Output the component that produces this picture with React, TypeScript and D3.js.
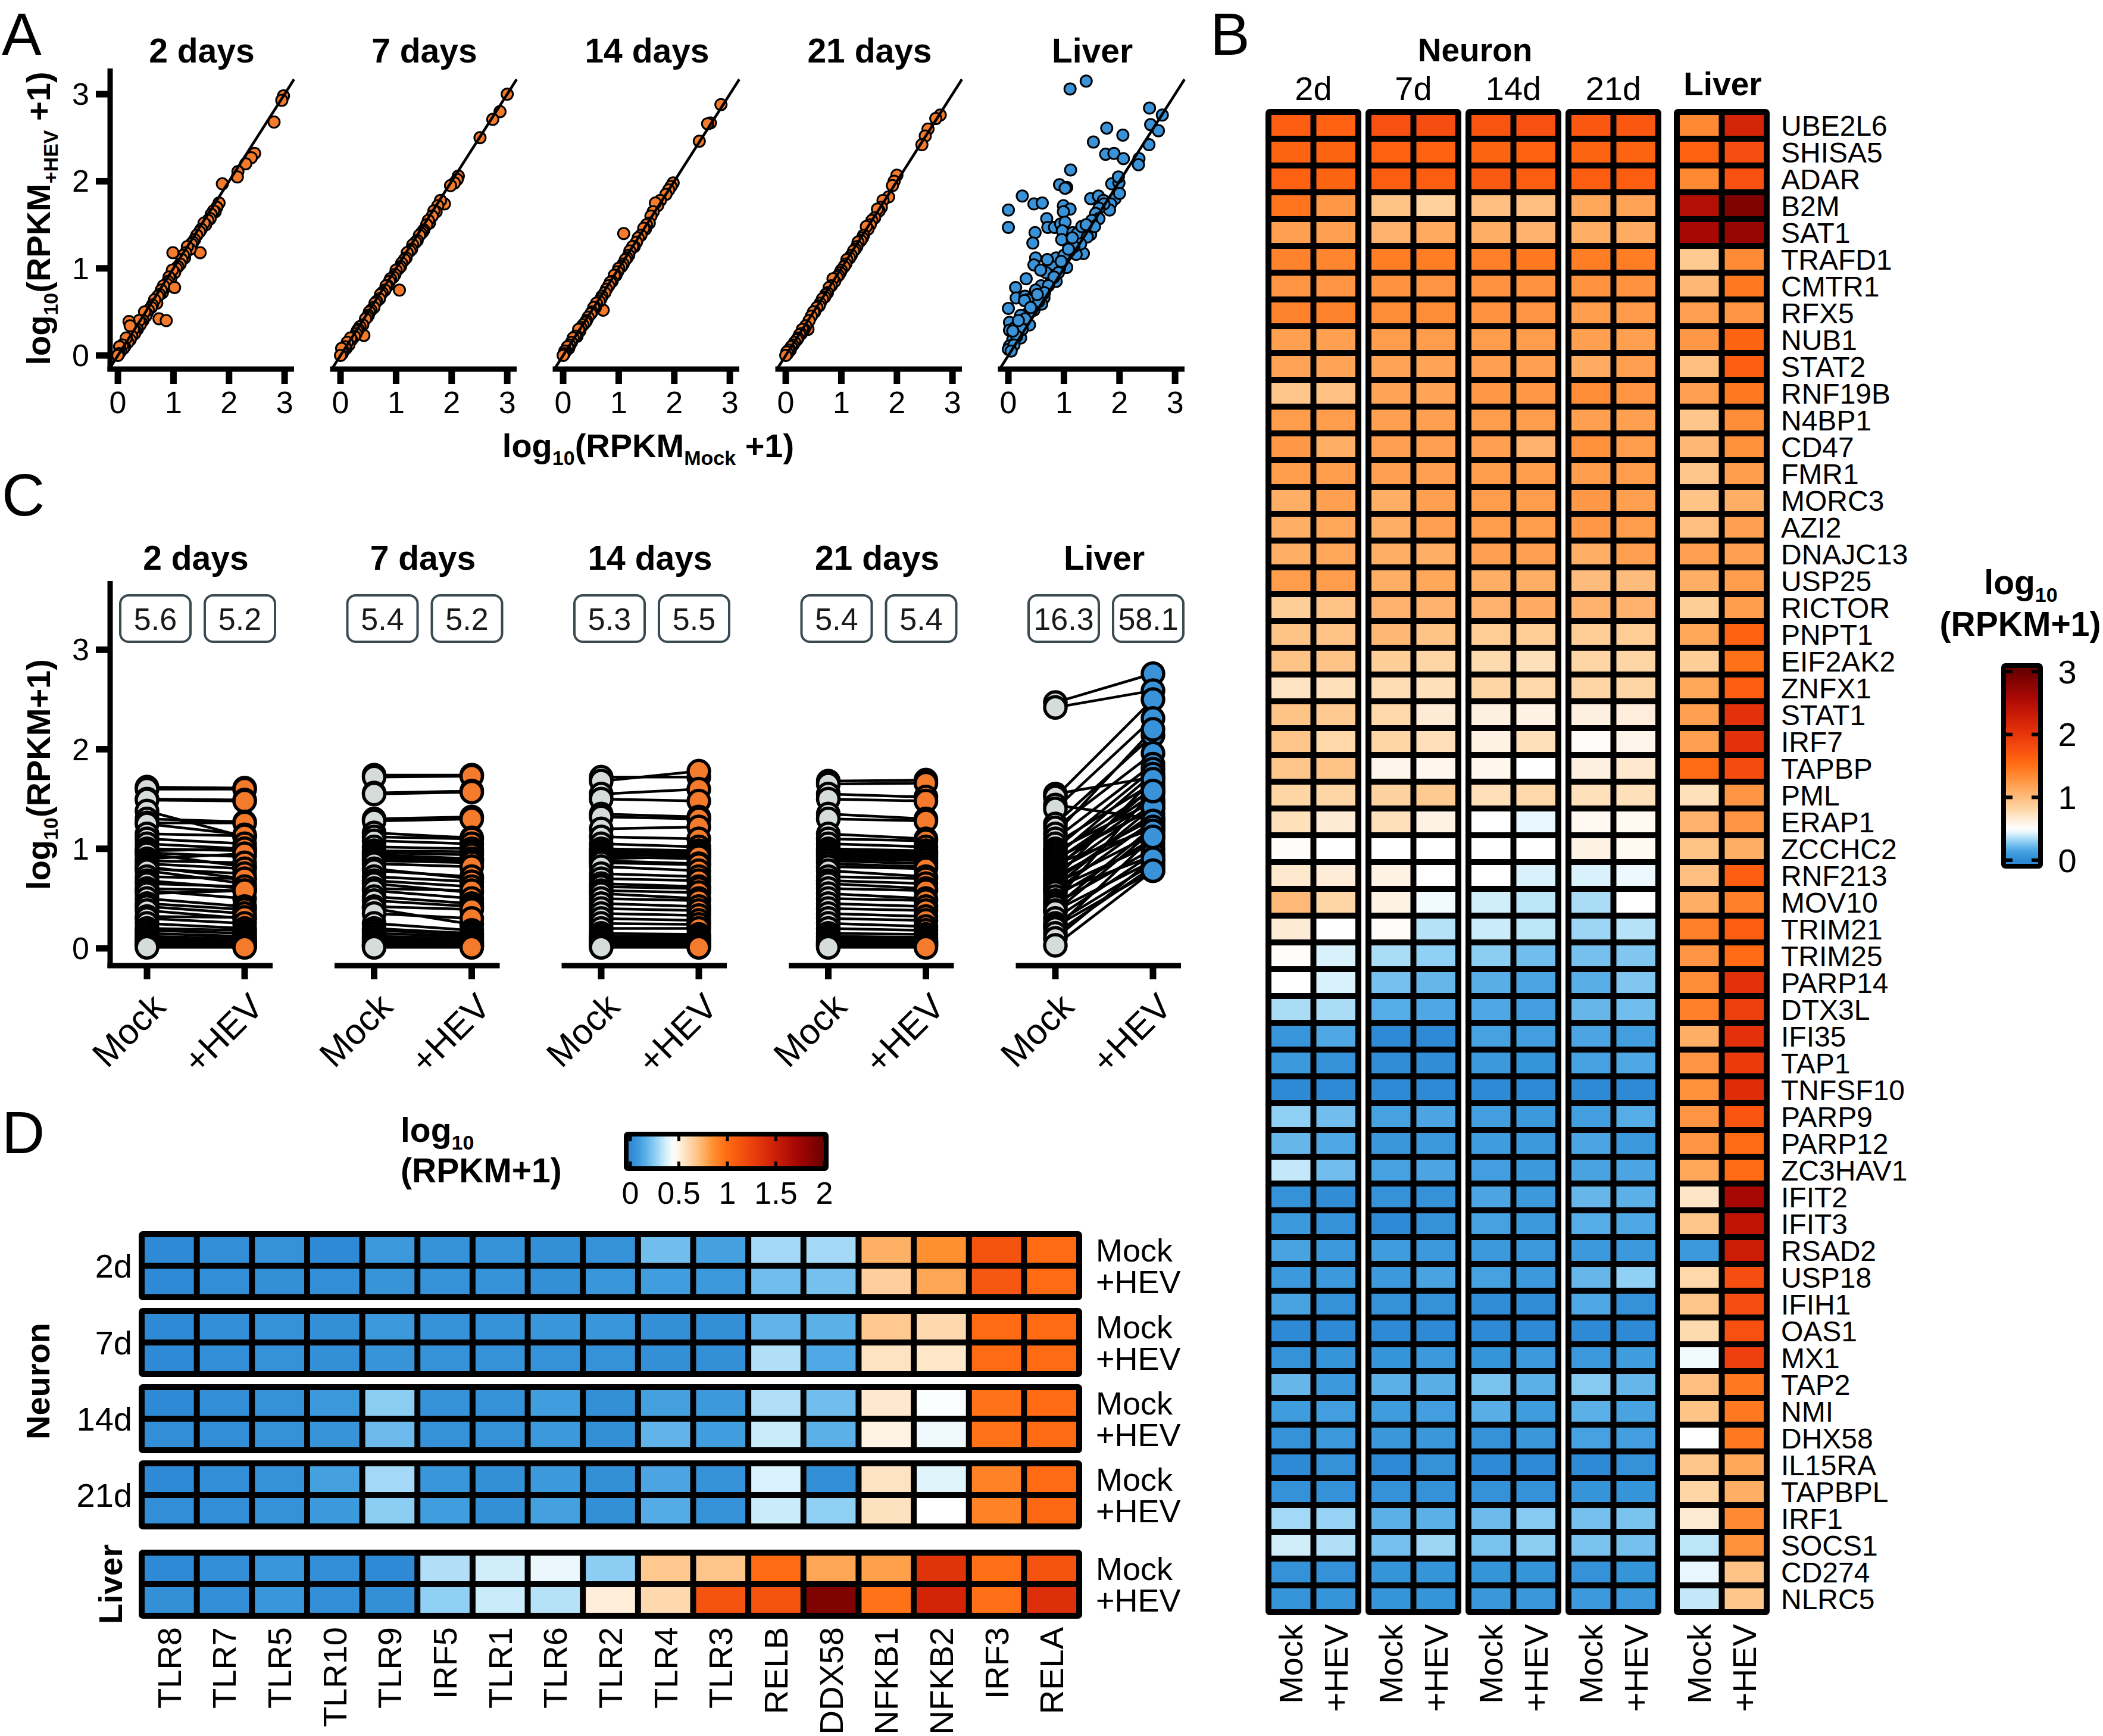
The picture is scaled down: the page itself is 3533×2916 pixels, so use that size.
import React from "react";
import * as d3 from "d3";

const FONT = "'Liberation Sans', Arial, Helvetica, sans-serif";
const ORANGE = "#f47a2c";
const BLUE = "#3a93d8";
const GREY = "#d5dcd9";

// ---------- panel A: [log10 mock, log10 +HEV] per gene ----------
const scatterTitles = ["2 days", "7 days", "14 days", "21 days", "Liver"];
const axisTicks = [0, 1, 2, 3];

const scatter2d = [
  [2.98, 2.98], [2.95, 2.93], [2.81, 2.68], [2.46, 2.32], [2.4, 2.27], [2.3, 2.2], [2.16, 2.11], [2.15, 2.05],
  [1.88, 1.97], [1.82, 1.75], [1.78, 1.7], [1.75, 1.65], [1.72, 1.66], [1.68, 1.62], [1.66, 1.57], [1.62, 1.55],
  [1.58, 1.5], [1.55, 1.52], [1.5, 1.45], [1.47, 1.42], [1.48, 1.18], [1.42, 1.38], [1.38, 1.33], [1.35, 1.3],
  [1.32, 1.28], [1.3, 1.22], [1.25, 1.25], [1.22, 1.18], [1.2, 1.12], [1.18, 1.15], [1.15, 1.1], [1.12, 1.05],
  [1.08, 1.02], [1.05, 1.0], [0.99, 1.18], [1.02, 0.95], [0.98, 0.98], [0.95, 0.88], [0.92, 0.9], [0.9, 0.85],
  [0.88, 0.82], [0.85, 0.78], [1.02, 0.78], [0.82, 0.8], [0.8, 0.72], [0.78, 0.75], [0.75, 0.7], [0.72, 0.68],
  [0.74, 0.42], [0.87, 0.4], [0.7, 0.6], [0.66, 0.64], [0.62, 0.58], [0.6, 0.55], [0.55, 0.52], [0.52, 0.48],
  [0.5, 0.45], [0.48, 0.5], [0.45, 0.4], [0.42, 0.38], [0.4, 0.35], [0.38, 0.4], [0.35, 0.3], [0.32, 0.28],
  [0.3, 0.25], [0.28, 0.3], [0.25, 0.22], [0.22, 0.18], [0.2, 0.39], [0.22, 0.34], [0.18, 0.15], [0.15, 0.2],
  [0.12, 0.1], [0.1, 0.08], [0.08, 0.12], [0.05, 0.05], [0.03, 0.1], [0.02, 0.02], [0.0, 0.0],
];
const scatter7d = [
  [3.0, 3.0], [2.87, 2.8], [2.74, 2.71], [2.51, 2.5], [2.12, 2.06], [2.1, 2.02], [2.05, 1.98], [1.98, 1.95],
  [1.87, 1.74], [1.8, 1.78], [1.75, 1.72], [1.72, 1.65], [1.68, 1.66], [1.65, 1.6], [1.6, 1.52], [1.58, 1.55],
  [1.55, 1.5], [1.5, 1.44], [1.48, 1.42], [1.45, 1.4], [1.42, 1.38], [1.38, 1.32], [1.35, 1.3], [1.3, 1.27],
  [1.28, 1.22], [1.25, 1.2], [1.2, 1.18], [1.18, 1.12], [1.15, 1.1], [1.1, 1.06], [1.06, 0.75], [1.08, 1.02],
  [1.05, 1.0], [1.0, 0.98], [0.98, 0.93], [0.95, 0.9], [0.9, 0.88], [0.88, 0.85], [0.85, 0.8], [0.82, 0.8],
  [0.8, 0.75], [0.75, 0.72], [0.72, 0.7], [0.7, 0.65], [0.65, 0.62], [0.62, 0.6], [0.6, 0.55], [0.55, 0.52],
  [0.52, 0.5], [0.5, 0.46], [0.48, 0.44], [0.45, 0.42], [0.42, 0.23], [0.4, 0.35], [0.35, 0.33], [0.32, 0.3],
  [0.3, 0.28], [0.28, 0.25], [0.25, 0.22], [0.2, 0.18], [0.18, 0.2], [0.15, 0.12], [0.12, 0.15], [0.1, 0.08],
  [0.08, 0.1], [0.05, 0.05], [0.03, 0.02], [0.02, 0.08], [0.0, 0.0],
];
const scatter14d = [
  [2.84, 2.88], [2.65, 2.67], [2.6, 2.66], [2.45, 2.46], [1.98, 1.98], [1.94, 1.94], [1.9, 1.9], [1.85, 1.85],
  [1.75, 1.78], [1.7, 1.72], [1.66, 1.75], [1.62, 1.65], [1.58, 1.6], [1.55, 1.52], [1.5, 1.5], [1.48, 1.45],
  [1.45, 1.46], [1.4, 1.38], [1.35, 1.35], [1.32, 1.3], [1.28, 1.25], [1.25, 1.25], [1.2, 1.2], [1.18, 1.15],
  [1.15, 1.12], [1.12, 1.1], [1.09, 1.4], [1.08, 1.05], [1.05, 1.02], [1.0, 1.0], [0.98, 0.96], [0.95, 0.92],
  [0.92, 0.92], [0.88, 0.85], [0.85, 0.84], [0.82, 0.8], [0.78, 0.76], [0.75, 0.72], [0.72, 0.52], [0.7, 0.68],
  [0.68, 0.65], [0.65, 0.62], [0.6, 0.6], [0.58, 0.55], [0.55, 0.55], [0.52, 0.5], [0.5, 0.48], [0.45, 0.44],
  [0.42, 0.4], [0.4, 0.38], [0.36, 0.35], [0.32, 0.32], [0.3, 0.28], [0.28, 0.3], [0.25, 0.22], [0.22, 0.22],
  [0.18, 0.2], [0.15, 0.15], [0.12, 0.12], [0.1, 0.08], [0.08, 0.1], [0.05, 0.05], [0.03, 0.05], [0.02, 0.02],
  [0.0, 0.0],
];
const scatter21d = [
  [2.78, 2.76], [2.7, 2.72], [2.56, 2.6], [2.51, 2.52], [2.45, 2.42], [2.0, 2.07], [1.95, 2.0], [1.92, 1.95],
  [1.85, 1.82], [1.75, 1.78], [1.72, 1.7], [1.68, 1.66], [1.65, 1.68], [1.6, 1.58], [1.55, 1.55], [1.52, 1.5],
  [1.48, 1.45], [1.45, 1.48], [1.4, 1.38], [1.38, 1.35], [1.35, 1.32], [1.3, 1.3], [1.28, 1.25], [1.25, 1.22],
  [1.22, 1.2], [1.18, 1.15], [1.15, 1.12], [1.1, 1.1], [1.08, 1.05], [1.05, 1.02], [1.0, 0.98], [0.98, 0.95],
  [0.95, 0.92], [0.92, 0.9], [0.88, 0.85], [0.85, 0.88], [0.82, 0.8], [0.78, 0.78], [0.75, 0.72], [0.72, 0.7],
  [0.7, 0.67], [0.66, 0.65], [0.62, 0.6], [0.6, 0.57], [0.56, 0.55], [0.52, 0.5], [0.5, 0.5], [0.46, 0.45],
  [0.42, 0.4], [0.4, 0.3], [0.36, 0.34], [0.33, 0.3], [0.3, 0.3], [0.28, 0.25], [0.25, 0.24], [0.22, 0.2],
  [0.2, 0.18], [0.16, 0.15], [0.13, 0.12], [0.1, 0.1], [0.08, 0.06], [0.05, 0.06], [0.03, 0.02], [0.02, 0.04],
  [0.0, 0.0],
];
const scatterLiver = [
  [1.11, 3.06], [1.4, 3.15], [2.54, 2.84], [2.77, 2.76], [2.56, 2.65], [2.7, 2.58], [2.53, 2.42], [2.35, 2.26],
  [2.34, 2.19], [1.77, 2.61], [2.06, 2.53], [1.53, 2.45], [1.75, 2.31], [1.9, 2.32], [2.07, 2.26], [1.12, 2.13],
  [0.92, 1.96], [1.05, 1.93], [1.02, 1.92], [0.25, 1.83], [0.46, 1.74], [0.61, 1.75], [0.0, 1.67], [0.0, 1.47],
  [1.48, 1.8], [1.62, 1.83], [1.71, 1.78], [0.99, 1.72], [1.11, 1.68], [0.99, 1.65], [0.69, 1.57], [0.71, 1.47],
  [0.83, 1.47], [0.94, 1.51], [1.02, 1.53], [0.97, 1.43], [0.48, 1.41], [0.44, 1.29], [0.49, 1.12], [0.46, 1.04],
  [1.16, 1.41], [1.24, 1.4], [1.32, 1.48], [1.05, 1.31], [0.96, 1.33], [0.32, 0.88], [0.13, 0.78], [0.14, 0.66],
  [0.3, 0.68], [0.35, 0.64], [0.0, 0.54], [0.02, 0.38], [0.02, 0.29], [1.86, 1.97], [1.99, 1.98], [1.98, 2.05],
  [1.92, 1.8], [2.0, 1.86], [1.84, 1.74], [1.82, 1.67], [1.72, 1.74], [1.63, 1.69], [1.57, 1.63], [1.63, 1.57],
  [1.48, 1.39], [1.42, 1.36], [1.35, 1.17], [1.22, 1.16], [1.05, 1.01], [0.92, 1.0], [0.86, 1.12], [0.78, 1.02],
  [0.75, 0.92], [0.68, 0.95], [0.86, 0.85], [0.59, 0.8], [0.49, 0.75], [0.64, 0.66], [0.6, 0.59], [0.46, 0.52],
  [0.36, 0.49], [0.38, 0.35], [0.29, 0.63], [0.22, 0.46], [0.12, 0.32], [0.22, 0.2], [0.08, 0.18], [0.02, 0.11],
  [0.0, 0.07], [1.3, 1.28], [1.18, 1.25], [1.1, 1.2], [1.0, 1.15], [0.95, 1.08], [0.9, 0.95], [0.82, 0.9],
  [0.72, 0.8], [0.65, 0.72], [0.55, 0.62], [0.52, 0.7], [0.4, 0.55], [0.3, 0.42], [0.25, 0.3], [0.15, 0.22],
  [0.1, 0.12], [0.05, 0.05], [0.18, 0.4], [0.08, 0.28], [1.5, 1.55], [1.55, 1.48], [1.4, 1.5], [1.15, 1.35],
  [1.08, 1.22], [0.7, 1.1], [0.58, 0.98],
];

// ---------- panel C: paired [mock, +HEV] per gene ----------
const pairCats = ["Mock", "+HEV"];
const boxLabels = [["5.6", "5.2"], ["5.4", "5.2"], ["5.3", "5.5"], ["5.4", "5.4"], ["16.3", "58.1"]];
const pairs2d = [
  [1.62, 1.61], [1.6, 1.6], [1.5, 1.49], [1.49, 1.48], [1.38, 1.12], [1.3, 1.27], [1.26, 1.26], [1.25, 1.14],
  [1.15, 1.13], [1.1, 1.05], [1.05, 1.0], [1.0, 0.98], [0.98, 1.0], [0.96, 0.92], [0.95, 0.82], [0.9, 0.95],
  [0.88, 0.86], [0.85, 0.8], [0.82, 0.7], [0.8, 0.75], [0.78, 0.65], [0.72, 0.7], [0.68, 0.6], [0.65, 0.62],
  [0.6, 0.58], [0.58, 0.5], [0.55, 0.58], [0.5, 0.42], [0.45, 0.39], [0.42, 0.35], [0.38, 0.3], [0.32, 0.31],
  [0.3, 0.25], [0.25, 0.2], [0.2, 0.18], [0.18, 0.15], [0.15, 0.12], [0.12, 0.1], [0.1, 0.08], [0.08, 0.06],
  [0.06, 0.05], [0.05, 0.04], [0.04, 0.03], [0.03, 0.02], [0.02, 0.02], [0.01, 0.01],
];
const pairs7d = [
  [1.74, 1.74], [1.72, 1.73], [1.56, 1.58], [1.55, 1.57], [1.3, 1.32], [1.28, 1.3], [1.16, 1.11], [1.12, 1.1],
  [1.08, 1.05], [1.02, 1.0], [0.98, 0.97], [0.96, 0.94], [0.94, 0.9], [0.92, 0.9], [0.9, 0.88], [0.88, 0.86],
  [0.85, 0.82], [0.8, 0.7], [0.78, 0.72], [0.72, 0.67], [0.68, 0.62], [0.65, 0.56], [0.6, 0.58], [0.58, 0.5],
  [0.52, 0.45], [0.48, 0.42], [0.42, 0.39], [0.4, 0.24], [0.35, 0.3], [0.25, 0.18], [0.2, 0.15], [0.18, 0.14],
  [0.15, 0.12], [0.12, 0.1], [0.1, 0.08], [0.08, 0.06], [0.06, 0.05], [0.04, 0.04], [0.03, 0.03], [0.02, 0.02],
  [0.01, 0.01],
];
const pairs14d = [
  [1.72, 1.72], [1.68, 1.78], [1.55, 1.6], [1.5, 1.48], [1.35, 1.32], [1.32, 1.3], [1.2, 1.22], [1.12, 1.1],
  [1.05, 1.02], [1.0, 0.98], [0.98, 0.97], [0.96, 0.95], [0.94, 0.93], [0.92, 0.9], [0.9, 0.92], [0.88, 0.85],
  [0.86, 0.84], [0.82, 0.78], [0.75, 0.72], [0.7, 0.68], [0.65, 0.62], [0.62, 0.6], [0.58, 0.56], [0.55, 0.5],
  [0.5, 0.48], [0.45, 0.42], [0.4, 0.38], [0.35, 0.33], [0.3, 0.28], [0.25, 0.24], [0.2, 0.2], [0.15, 0.14],
  [0.12, 0.12], [0.1, 0.1], [0.08, 0.08], [0.06, 0.06], [0.05, 0.05], [0.04, 0.04], [0.03, 0.03], [0.02, 0.02],
  [0.01, 0.01],
];
const pairs21d = [
  [1.68, 1.69], [1.65, 1.66], [1.55, 1.52], [1.5, 1.48], [1.35, 1.3], [1.3, 1.28], [1.15, 1.1], [1.1, 1.08],
  [1.05, 1.02], [1.0, 0.98], [0.98, 0.96], [0.96, 0.94], [0.94, 0.92], [0.92, 0.9], [0.9, 0.88], [0.88, 0.85],
  [0.85, 0.82], [0.82, 0.8], [0.78, 0.72], [0.72, 0.7], [0.68, 0.65], [0.65, 0.6], [0.6, 0.58], [0.55, 0.5],
  [0.5, 0.48], [0.45, 0.42], [0.4, 0.38], [0.35, 0.32], [0.3, 0.28], [0.25, 0.22], [0.2, 0.18], [0.15, 0.14],
  [0.12, 0.11], [0.1, 0.09], [0.08, 0.07], [0.06, 0.06], [0.05, 0.05], [0.04, 0.04], [0.03, 0.03], [0.02, 0.02],
  [0.01, 0.01],
];
const pairsLiver = [
  [2.47, 2.76], [2.42, 2.59], [1.55, 1.72], [1.52, 2.5], [1.44, 1.3], [1.4, 2.31], [1.25, 2.14], [1.21, 1.96],
  [1.15, 2.2], [1.1, 1.85], [1.05, 1.66], [1.0, 1.8], [0.98, 1.47], [0.95, 1.6], [0.92, 1.75], [0.9, 1.4],
  [0.88, 1.55], [0.85, 1.2], [0.82, 1.5], [0.8, 1.62], [0.78, 1.3], [0.75, 1.45], [0.72, 1.25], [0.7, 1.7],
  [0.68, 1.35], [0.65, 1.15], [0.62, 1.42], [0.6, 1.05], [0.58, 1.28], [0.56, 0.93], [0.52, 1.1], [0.48, 1.58],
  [0.45, 1.0], [0.42, 1.22], [0.38, 0.88], [0.37, 1.18], [0.3, 0.95], [0.25, 0.85], [0.22, 0.78], [0.2, 1.12],
  [0.15, 0.82], [0.1, 0.9], [0.03, 0.78],
];

// ---------- panel B heatmap ----------
const bGroups = ["2d", "7d", "14d", "21d", "Liver"];
const bGenes = [
  "UBE2L6", "SHISA5", "ADAR", "B2M", "SAT1", "TRAFD1", "CMTR1", "RFX5", "NUB1", "STAT2", "RNF19B", "N4BP1",
  "CD47", "FMR1", "MORC3", "AZI2", "DNAJC13", "USP25", "RICTOR", "PNPT1", "EIF2AK2", "ZNFX1", "STAT1", "IRF7",
  "TAPBP", "PML", "ERAP1", "ZCCHC2", "RNF213", "MOV10", "TRIM21", "TRIM25", "PARP14", "DTX3L", "IFI35", "TAP1",
  "TNFSF10", "PARP9", "PARP12", "ZC3HAV1", "IFIT2", "IFIT3", "RSAD2", "USP18", "IFIH1", "OAS1", "MX1", "TAP2",
  "NMI", "DHX58", "IL15RA", "TAPBPL", "IRF1", "SOCS1", "CD274", "NLRC5",
];
// columns: 2d mock/+HEV, 7d, 14d, 21d, liver
const bValues = [
  [1.65, 1.62, 1.75, 1.78, 1.72, 1.75, 1.7, 1.7, 1.35, 2.2],
  [1.6, 1.6, 1.62, 1.62, 1.6, 1.62, 1.6, 1.6, 1.62, 1.78],
  [1.62, 1.6, 1.65, 1.65, 1.68, 1.65, 1.65, 1.65, 1.35, 1.75],
  [1.48, 1.25, 0.95, 0.85, 0.98, 0.98, 1.15, 1.17, 2.5, 2.85],
  [1.2, 1.2, 1.07, 1.13, 1.1, 1.07, 1.1, 1.12, 2.6, 2.7],
  [1.38, 1.37, 1.42, 1.42, 1.4, 1.45, 1.42, 1.42, 0.9, 1.33],
  [1.27, 1.27, 1.28, 1.27, 1.28, 1.28, 1.28, 1.28, 1.03, 1.45],
  [1.38, 1.38, 1.32, 1.32, 1.28, 1.27, 1.22, 1.23, 1.2, 1.27],
  [1.2, 1.2, 1.22, 1.22, 1.22, 1.22, 1.2, 1.2, 1.25, 1.6],
  [1.17, 1.17, 1.17, 1.17, 1.2, 1.2, 1.12, 1.2, 0.98, 1.65],
  [0.93, 0.97, 1.17, 1.17, 1.25, 1.25, 1.32, 1.27, 1.2, 1.45],
  [1.22, 1.22, 1.2, 1.2, 1.22, 1.22, 1.2, 1.2, 0.93, 1.32],
  [1.25, 1.1, 1.2, 1.2, 1.2, 1.07, 1.3, 1.22, 1.03, 1.3],
  [1.22, 1.22, 1.2, 1.2, 1.22, 1.22, 1.22, 1.22, 0.93, 1.22],
  [1.1, 1.2, 1.1, 1.2, 1.22, 1.22, 1.25, 1.2, 0.95, 1.1],
  [1.1, 1.15, 1.1, 1.2, 1.22, 1.22, 1.25, 1.22, 0.98, 1.2],
  [1.1, 1.15, 1.1, 1.1, 1.2, 1.2, 1.1, 1.2, 1.2, 1.2],
  [1.22, 1.22, 1.1, 1.15, 1.1, 1.1, 1.0, 1.0, 1.1, 1.22],
  [0.87, 0.95, 1.07, 1.07, 1.07, 1.12, 1.07, 1.07, 0.87, 1.22],
  [0.95, 0.95, 1.03, 0.95, 0.88, 0.88, 0.88, 0.88, 1.15, 1.62],
  [0.95, 0.95, 0.87, 0.82, 0.78, 0.74, 0.82, 0.82, 0.87, 1.5],
  [0.72, 0.74, 0.76, 0.74, 0.82, 0.8, 0.82, 0.82, 1.15, 1.65],
  [0.95, 0.9, 0.8, 0.66, 0.62, 0.6, 0.62, 0.64, 1.2, 2.05],
  [0.93, 0.8, 0.82, 0.75, 0.6, 0.74, 0.52, 0.58, 1.2, 2.05],
  [0.93, 0.95, 0.58, 0.57, 0.57, 0.5, 0.62, 0.68, 1.55, 1.8],
  [0.82, 0.82, 0.84, 0.9, 0.75, 0.8, 0.74, 0.74, 0.74, 1.27],
  [0.74, 0.66, 0.74, 0.6, 0.5, 0.45, 0.55, 0.55, 1.07, 1.27],
  [0.52, 0.5, 0.5, 0.5, 0.5, 0.5, 0.6, 0.55, 0.95, 1.1],
  [0.68, 0.65, 0.6, 0.5, 0.5, 0.42, 0.42, 0.46, 0.98, 1.65],
  [1.02, 0.82, 0.6, 0.47, 0.4, 0.37, 0.34, 0.5, 1.1, 1.4],
  [0.66, 0.5, 0.52, 0.36, 0.39, 0.37, 0.32, 0.36, 1.4, 1.65],
  [0.52, 0.42, 0.34, 0.3, 0.29, 0.24, 0.25, 0.27, 1.27, 1.55],
  [0.5, 0.42, 0.25, 0.22, 0.19, 0.15, 0.19, 0.27, 1.32, 2.05],
  [0.34, 0.34, 0.18, 0.16, 0.16, 0.12, 0.22, 0.24, 1.4, 1.9],
  [0.07, 0.16, 0.0, 0.0, 0.13, 0.12, 0.15, 0.12, 1.1, 2.05],
  [0.1, 0.05, 0.02, 0.02, 0.1, 0.06, 0.13, 0.16, 1.27, 1.95],
  [0.0, 0.0, 0.0, 0.0, 0.0, 0.0, 0.0, 0.0, 1.3, 2.1],
  [0.3, 0.24, 0.13, 0.15, 0.12, 0.1, 0.12, 0.18, 1.27, 1.72],
  [0.22, 0.16, 0.08, 0.1, 0.11, 0.1, 0.15, 0.1, 1.27, 1.55],
  [0.38, 0.24, 0.13, 0.15, 0.12, 0.1, 0.14, 0.15, 1.15, 1.55],
  [0.05, 0.02, 0.05, 0.05, 0.15, 0.1, 0.22, 0.2, 0.7, 2.6],
  [0.1, 0.05, 0.0, 0.05, 0.13, 0.1, 0.18, 0.16, 0.93, 2.4],
  [0.14, 0.1, 0.11, 0.1, 0.1, 0.09, 0.1, 0.1, 0.1, 2.3],
  [0.1, 0.1, 0.1, 0.14, 0.13, 0.1, 0.22, 0.3, 0.8, 1.78],
  [0.14, 0.05, 0.05, 0.05, 0.02, 0.02, 0.16, 0.05, 0.93, 1.78],
  [0.0, 0.0, 0.0, 0.0, 0.0, 0.0, 0.0, 0.0, 0.78, 1.75],
  [0.05, 0.06, 0.06, 0.1, 0.06, 0.1, 0.09, 0.11, 0.47, 1.9],
  [0.22, 0.1, 0.2, 0.19, 0.26, 0.2, 0.28, 0.22, 0.98, 1.45],
  [0.11, 0.12, 0.11, 0.12, 0.19, 0.11, 0.2, 0.14, 0.95, 1.45],
  [0.05, 0.1, 0.08, 0.08, 0.05, 0.08, 0.13, 0.12, 0.5, 1.45],
  [0.0, 0.05, 0.0, 0.05, 0.0, 0.0, 0.0, 0.05, 0.93, 1.15],
  [0.05, 0.05, 0.05, 0.05, 0.05, 0.05, 0.06, 0.06, 0.82, 1.1],
  [0.33, 0.31, 0.2, 0.2, 0.23, 0.28, 0.25, 0.26, 0.67, 1.35],
  [0.4, 0.35, 0.25, 0.32, 0.26, 0.29, 0.26, 0.25, 0.37, 1.3],
  [0.05, 0.05, 0.06, 0.06, 0.06, 0.06, 0.05, 0.06, 0.45, 0.95],
  [0.06, 0.06, 0.06, 0.06, 0.08, 0.08, 0.1, 0.1, 0.38, 0.93],
];
const bTicks = [0, 1, 2, 3];

// ---------- panel D heatmap ----------
const dGroups = ["2d", "7d", "14d", "21d", "Liver"];
const dGenes = ["TLR8", "TLR7", "TLR5", "TLR10", "TLR9", "IRF5", "TLR1", "TLR6", "TLR2", "TLR4", "TLR3", "RELB", "DDX58", "NFKB1", "NFKB2", "IRF3", "RELA"];
// rows per gene: 2d mock/+HEV, 7d, 14d, 21d, liver
const dValues = [
  [0.0, 0.0, 0.0, 0.0, 0.0, 0.02, 0.0, 0.02, 0.0, 0.03],
  [0.02, 0.02, 0.02, 0.02, 0.02, 0.02, 0.02, 0.02, 0.02, 0.02],
  [0.04, 0.03, 0.04, 0.04, 0.04, 0.04, 0.04, 0.04, 0.06, 0.06],
  [0.0, 0.02, 0.03, 0.03, 0.07, 0.05, 0.1, 0.08, 0.02, 0.02],
  [0.07, 0.05, 0.07, 0.05, 0.25, 0.19, 0.29, 0.25, 0.0, 0.03],
  [0.04, 0.04, 0.04, 0.04, 0.04, 0.04, 0.06, 0.09, 0.31, 0.26],
  [0.04, 0.04, 0.04, 0.04, 0.04, 0.04, 0.03, 0.03, 0.36, 0.35],
  [0.03, 0.03, 0.06, 0.04, 0.09, 0.08, 0.08, 0.1, 0.41, 0.32],
  [0.04, 0.06, 0.06, 0.04, 0.03, 0.03, 0.03, 0.03, 0.25, 0.52],
  [0.2, 0.09, 0.03, 0.03, 0.1, 0.17, 0.12, 0.14, 0.67, 0.6],
  [0.1, 0.08, 0.03, 0.03, 0.08, 0.09, 0.04, 0.04, 0.68, 1.15],
  [0.29, 0.2, 0.17, 0.31, 0.31, 0.35, 0.38, 0.35, 1.0, 1.15],
  [0.29, 0.21, 0.16, 0.13, 0.2, 0.16, 0.02, 0.26, 0.78, 1.9],
  [0.75, 0.64, 0.67, 0.56, 0.54, 0.5, 0.56, 0.57, 0.8, 0.97],
  [0.85, 0.78, 0.6, 0.55, 0.44, 0.42, 0.39, 0.45, 1.35, 1.45],
  [1.15, 1.12, 1.0, 1.0, 0.97, 0.97, 0.9, 0.9, 0.98, 0.98],
  [1.0, 1.0, 1.0, 1.0, 1.0, 1.0, 1.0, 1.02, 1.15, 1.38],
];
const dTicks = [0, 0.5, 1, 1.5, 2];

// colour ramps (blue - white - orange - dark red)
const bColor = d3
  .scaleLinear<string>()
  .domain([0, 0.1, 0.2, 0.3, 0.4, 0.5, 0.65, 0.8, 1.0, 1.2, 1.4, 1.55, 1.75, 2.0, 2.3, 2.6, 3.0])
  .range(["#2e8ad4", "#3c9adc", "#5cb0e8", "#90d0f4", "#d0eefa", "#ffffff", "#feecd8", "#fed8a8", "#febc7c", "#ffa050", "#ff8028", "#ff6a12", "#f85010", "#e8360c", "#cc1c06", "#a80804", "#6a0000"])
  .clamp(true);
const dColor = d3
  .scaleLinear<string>()
  .domain([0, 0.08, 0.16, 0.26, 0.36, 0.45, 0.55, 0.7, 0.85, 1.0, 1.2, 1.45, 1.7, 2.0])
  .range(["#2e8ad4", "#3c9adc", "#5cb0e8", "#90d0f4", "#d0eefa", "#ffffff", "#fee6c8", "#fec080", "#ff9030", "#ff6a12", "#f04a0e", "#d42408", "#a80804", "#6a0000"])
  .clamp(true);

const Log10 = ({ sub = 34, dy = 13 }) => (
  <>
    log<tspan fontSize={sub} dy={dy}>10</tspan>
  </>
);

function PanelA() {
  const sets = [scatter2d, scatter7d, scatter14d, scatter21d, scatterLiver];
  const y = d3.scaleLinear().domain([-0.157, 3.295]).range([620, 115]);
  return (
    <g>
      {sets.map((pts, i) => {
        const o = 185 + i * 374;
        const x = d3.scaleLinear().domain([-0.14, 3.17]).range([o, o + 309]);
        const fill = i === 4 ? BLUE : ORANGE;
        return (
          <g key={i}>
            <text x={o + 154} y={105} textAnchor="middle" fontSize={57} fontWeight="bold">{scatterTitles[i]}</text>
            {pts.map((p, k) => (
              <circle key={k} cx={x(p[0])} cy={y(p[1])} r={9.5} fill={fill} stroke="#000" strokeWidth={3} />
            ))}
            <line x1={x(-0.14)} y1={y(-0.14)} x2={x(3.17)} y2={y(3.17)} stroke="#000" strokeWidth={4.5} />
            <line x1={o - 4.5} x2={o + 309} y1={620} y2={620} stroke="#000" strokeWidth={9} />
            {axisTicks.map((t) => (
              <g key={t}>
                <line x1={x(t)} x2={x(t)} y1={620} y2={645} stroke="#000" strokeWidth={11} />
                <text x={x(t)} y={694} textAnchor="middle" fontSize={52}>{t}</text>
              </g>
            ))}
          </g>
        );
      })}
      <line x1={185} x2={185} y1={115} y2={624} stroke="#000" strokeWidth={9} />
      {axisTicks.map((t) => (
        <g key={t}>
          <line x1={185} x2={161} y1={y(t)} y2={y(t)} stroke="#000" strokeWidth={11} />
          <text x={150} y={y(t)} textAnchor="end" dominantBaseline="central" fontSize={52}>{t}</text>
        </g>
      ))}
      <text transform="translate(84,367) rotate(-90)" textAnchor="middle" fontSize={56} fontWeight="bold">
        <Log10 />
        <tspan dy={-13}>(RPKM</tspan>
        <tspan fontSize={34} dy={13}>+HEV</tspan>
        <tspan dy={-13}>{" +1)"}</tspan>
      </text>
      <text x={1089} y={768} textAnchor="middle" fontSize={56} fontWeight="bold">
        <Log10 />
        <tspan dy={-13}>(RPKM</tspan>
        <tspan fontSize={34} dy={13}>Mock</tspan>
        <tspan dy={-13}>{" +1)"}</tspan>
      </text>
    </g>
  );
}

function PanelC() {
  const sets = [pairs2d, pairs7d, pairs14d, pairs21d, pairsLiver];
  const y = d3.scaleLinear().domain([-0.174, 3.69]).range([1622, 976]);
  return (
    <g>
      {sets.map((pairs, i) => {
        const o = 185 + i * 381.5;
        const x = d3.scalePoint().domain(pairCats).range([o + 62, o + 226]);
        const mx = x("Mock") as number;
        const hx = x("+HEV") as number;
        const fill = i === 4 ? BLUE : ORANGE;
        return (
          <g key={i}>
            <text x={o + 144} y={957} textAnchor="middle" fontSize={57} fontWeight="bold">{scatterTitles[i]}</text>
            {boxLabels[i].map((lab, j) => {
              const cx = j === 0 ? mx + 14 : hx - 8;
              return (
                <g key={j}>
                  <rect x={cx - 59} y={1000} width={118} height={78} rx={14} fill="#fff" stroke="#3b4a50" strokeWidth={4} />
                  <text x={cx} y={1040} textAnchor="middle" dominantBaseline="central" fontSize={52} fill="#1a1a1a">{lab}</text>
                </g>
              );
            })}
            {pairs.map((p, k) => (
              <line key={k} x1={mx} y1={y(p[0])} x2={hx} y2={y(p[1])} stroke="#000" strokeWidth={4.5} />
            ))}
            {pairs.map((p, k) => (
              <circle key={k} cx={mx} cy={y(p[0])} r={18} fill={GREY} stroke="#000" strokeWidth={5.5} />
            ))}
            {pairs.map((p, k) => (
              <circle key={k} cx={hx} cy={y(p[1])} r={18} fill={fill} stroke="#000" strokeWidth={5.5} />
            ))}
            <line x1={o - 4.5} x2={o + 273} y1={1622} y2={1622} stroke="#000" strokeWidth={9} />
            {pairCats.map((c) => (
              <g key={c}>
                <line x1={x(c)} x2={x(c)} y1={1622} y2={1645} stroke="#000" strokeWidth={11} />
                <text
                  transform={`translate(${(x(c) as number) + 4},1664) rotate(-45)`}
                  textAnchor="end"
                  dy="0.72em"
                  fontSize={60}
                >
                  {c}
                </text>
              </g>
            ))}
          </g>
        );
      })}
      <line x1={185} x2={185} y1={976} y2={1626} stroke="#000" strokeWidth={9} />
      {axisTicks.map((t) => (
        <g key={t}>
          <line x1={185} x2={161} y1={y(t)} y2={y(t)} stroke="#000" strokeWidth={11} />
          <text x={150} y={y(t)} textAnchor="end" dominantBaseline="central" fontSize={52}>{t}</text>
        </g>
      ))}
      <text transform="translate(84,1301) rotate(-90)" textAnchor="middle" fontSize={56} fontWeight="bold">
        <Log10 />
        <tspan dy={-13}>(RPKM+1)</tspan>
      </text>
    </g>
  );
}

function PanelB() {
  const blockX = [2126, 2294, 2462, 2630, 2812];
  const top = 183;
  const bottom = 2713;
  const rows = d3.scaleBand().domain(bGenes).range([top + 5, bottom - 5]);
  const rh = rows.bandwidth();
  const cbY = d3.scaleLinear().domain([0, 3]).range([1445, 1128]);
  return (
    <g>
      <text x={2478} y={103} textAnchor="middle" fontSize={55} fontWeight="bold">Neuron</text>
      {blockX.map((bx, g) => {
        const cols = d3.scaleBand().domain(pairCats).range([bx + 5, bx + 156]);
        return (
          <g key={g}>
            {g < 4 ? (
              <text x={bx + 80.5} y={168} textAnchor="middle" fontSize={56}>{bGroups[g]}</text>
            ) : (
              <text x={bx + 82} y={160} textAnchor="middle" fontSize={55} fontWeight="bold">{bGroups[g]}</text>
            )}
            <rect x={bx} y={top} width={161} height={bottom - top} rx={7} fill="#000" />
            {bGenes.map((gene, r) =>
              pairCats.map((c, j) => (
                <rect
                  key={gene + c}
                  x={(cols(c) as number) + 5}
                  y={(rows(gene) as number) + 5}
                  width={cols.bandwidth() - 10}
                  height={rh - 10}
                  fill={bColor(bValues[r][g * 2 + j])}
                />
              ))
            )}
            {pairCats.map((c) => (
              <text
                key={c}
                transform={`translate(${(cols(c) as number) + cols.bandwidth() / 2},2728) rotate(-90)`}
                textAnchor="end"
                dominantBaseline="central"
                fontSize={56}
              >
                {c}
              </text>
            ))}
          </g>
        );
      })}
      {bGenes.map((gene) => (
        <text key={gene} x={2992} y={(rows(gene) as number) + rh / 2 + 1} dominantBaseline="central" fontSize={48}>
          {gene}
        </text>
      ))}
      {/* colour key */}
      <text x={3395} y={998} textAnchor="middle" fontSize={57} fontWeight="bold">
        <Log10 />
      </text>
      <text x={3394} y={1068} textAnchor="middle" fontSize={57} fontWeight="bold">(RPKM+1)</text>
      <rect x={3366} y={1118} width={62} height={337} fill="url(#cbB)" stroke="#000" strokeWidth={8} rx={3} />
      {bTicks.map((t) => (
        <g key={t}>
          <line x1={3366} x2={3381} y1={cbY(t)} y2={cbY(t)} stroke="#000" strokeWidth={6} />
          <line x1={3413} x2={3428} y1={cbY(t)} y2={cbY(t)} stroke="#000" strokeWidth={6} />
          <text x={3473} y={cbY(t)} textAnchor="middle" dominantBaseline="central" fontSize={56}>{t}</text>
        </g>
      ))}
    </g>
  );
}

function PanelD() {
  const blockTop = [2068, 2197, 2325, 2453, 2603];
  const cols = d3.scaleBand().domain(dGenes).range([238, 1813]);
  const cw = cols.bandwidth();
  const cbX = d3.scaleLinear().domain([0, 2]).range([1059, 1385]);
  return (
    <g>
      <text x={673} y={1918} fontSize={57} fontWeight="bold">
        <Log10 />
      </text>
      <text x={673} y={1986} fontSize={57} fontWeight="bold">(RPKM+1)</text>
      <rect x={1052} y={1905} width={336} height={58} fill="url(#cbD)" stroke="#000" strokeWidth={8} rx={3} />
      {dTicks.map((t) => (
        <g key={t}>
          <line x1={cbX(t)} x2={cbX(t)} y1={1905} y2={1917} stroke="#000" strokeWidth={5} />
          <line x1={cbX(t)} x2={cbX(t)} y1={1951} y2={1963} stroke="#000" strokeWidth={5} />
          <text x={cbX(t)} y={2022} textAnchor="middle" fontSize={52}>{t}</text>
        </g>
      ))}
      {blockTop.map((ty, g) => {
        const rows = d3.scaleBand().domain(pairCats).range([ty + 5, ty + 111]);
        return (
          <g key={g}>
            <rect x={233} y={ty} width={1585} height={116} rx={7} fill="#000" />
            {dGenes.map((gene, c) =>
              pairCats.map((p, j) => (
                <rect
                  key={gene + p}
                  x={(cols(gene) as number) + 5}
                  y={(rows(p) as number) + 5}
                  width={cw - 10}
                  height={rows.bandwidth() - 10}
                  fill={dColor(dValues[c][g * 2 + j])}
                />
              ))
            )}
            {pairCats.map((p) => (
              <text key={p} x={1841} y={(rows(p) as number) + rows.bandwidth() / 2} dominantBaseline="central" fontSize={54}>
                {p}
              </text>
            ))}
            {g < 4 && (
              <text x={222} y={ty + 58} textAnchor="end" dominantBaseline="central" fontSize={56}>{dGroups[g]}</text>
            )}
          </g>
        );
      })}
      <text transform="translate(83,2320) rotate(-90)" textAnchor="middle" fontSize={56} fontWeight="bold">Neuron</text>
      <text transform="translate(205,2661) rotate(-90)" textAnchor="middle" fontSize={56} fontWeight="bold">{dGroups[4]}</text>
      {dGenes.map((gene) => (
        <text
          key={gene}
          transform={`translate(${(cols(gene) as number) + cw / 2},2733) rotate(-90)`}
          textAnchor="end"
          dominantBaseline="central"
          fontSize={56}
        >
          {gene}
        </text>
      ))}
    </g>
  );
}

export default function App() {
  const steps = d3.range(0, 1.0001, 0.02);
  return (
    <svg
      width={3533}
      height={2916}
      style={{ position: "absolute", left: 0, top: 0, background: "#fff" }}
      fontFamily={FONT}
    >
      <defs>
        <linearGradient id="cbB" gradientUnits="userSpaceOnUse" x1={0} x2={0} y1={1445} y2={1128}>
          {steps.map((t) => (
            <stop key={t} offset={t} stopColor={bColor(t * 3)} />
          ))}
        </linearGradient>
        <linearGradient id="cbD" gradientUnits="userSpaceOnUse" x1={1059} x2={1385} y1={0} y2={0}>
          {steps.map((t) => (
            <stop key={t} offset={t} stopColor={dColor(t * 2)} />
          ))}
        </linearGradient>
      </defs>
      <rect width={3533} height={2916} fill="#fff" />
      <text x={3} y={92} fontSize={100}>A</text>
      <text x={2033} y={92} fontSize={100}>B</text>
      <text x={3} y={866} fontSize={100}>C</text>
      <text x={3} y={1937} fontSize={100}>D</text>
      <PanelA />
      <PanelC />
      <PanelB />
      <PanelD />
    </svg>
  );
}
